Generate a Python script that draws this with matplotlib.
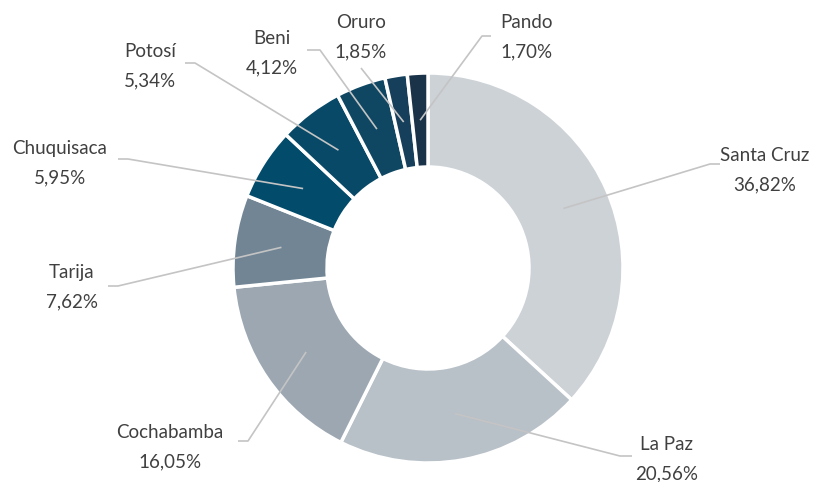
import numpy as np
import matplotlib
matplotlib.use("Agg")
from matplotlib import pyplot as plt

plt.rcParams['font.family'] = ['Lato', 'DejaVu Sans']

# datos
departamentos = ["Santa Cruz", "La Paz", "Cochabamba", "Tarija", "Chuquisaca",
                 "Potosí", "Beni", "Oruro", "Pando"]
porcentajes = [36.82, 20.56, 16.05, 7.62, 5.95, 5.34, 4.12, 1.85, 1.70]
colores = ["#CDD2D7", "#B8C0C8", "#9CA7B2", "#718595", "#024B6B",
           "#074967", "#0F4763", "#153F5A", "#1A3349"]

# posiciones de las etiquetas (pixeles) y del codo de la linea guia
pos_texto = [(765, 170), (667, 459), (170, 447), (72, 287), (60, 163),
             (150, 66), (272, 53), (361, 37), (526, 37)]
codo = [(710, 164), (620, 456), (248, 441), (118, 286), (128, 159),
        (195, 63), (320, 50), (361, 68), (482, 36)]
fin = [(720, 164), (632, 456), (238, 441), (108, 286), (118, 159),
       (185, 63), (307, 50), (361, 68), (491, 36)]

W, H = 827, 482
fig = plt.figure(figsize=(W / 100, H / 100), dpi=100)
ax = fig.add_axes([0, 0, 1, 1])
ax.axis("off")

cx, cy = 428, H - 268
r_ext, r_int = 195, 101
wedges, _ = ax.pie(porcentajes, colors=colores, startangle=90, counterclock=False,
                   center=(cx, cy), radius=r_ext,
                   wedgeprops=dict(width=r_ext - r_int, edgecolor="white", linewidth=2.5))
ax.set_xlim(0, W)
ax.set_ylim(0, H)
ax.set_aspect("equal")

r_mid = (r_ext + r_int) / 2
for w, nombre, p, (tx, ty), (ex, ey), (fx, fy) in zip(wedges, departamentos, porcentajes,
                                                       pos_texto, codo, fin):
    ang = np.deg2rad((w.theta1 + w.theta2) / 2)
    ax_, ay_ = cx + r_mid * np.cos(ang), cy + r_mid * np.sin(ang)
    ax.plot([ax_, ex, fx], [ay_, H - ey, H - fy], color="#C4C4C4", lw=1.2,
            solid_capstyle="butt", zorder=3)
    etiqueta = f"{nombre}\n{p:.2f}%".replace(".", ",")
    ax.text(tx, H - ty, etiqueta, ha="center", va="center", fontsize=13.5,
            color="#404040", linespacing=1.9)

fig.savefig("out.png", dpi=100, facecolor="white")
